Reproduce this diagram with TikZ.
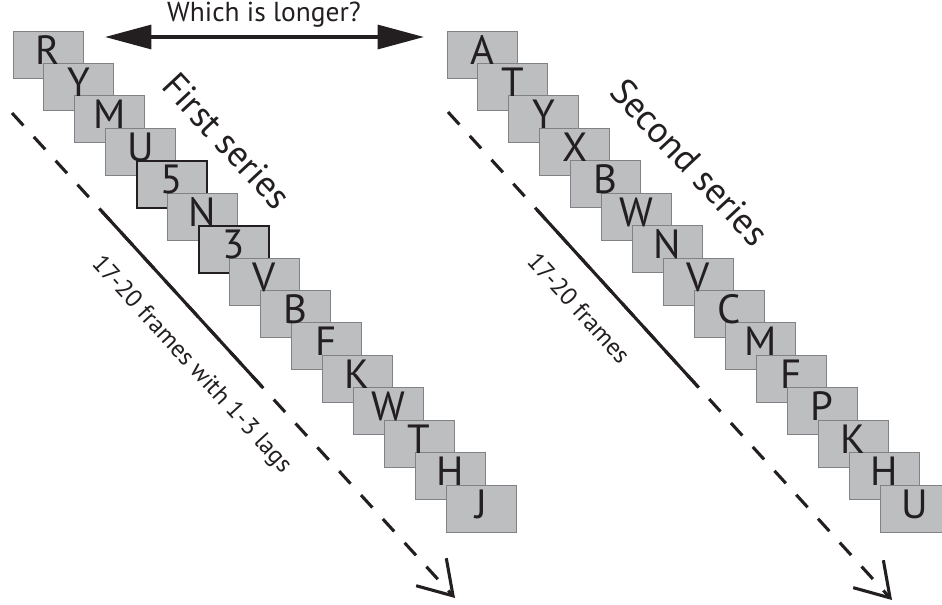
\documentclass[tikz,border=0pt]{standalone}
\usepackage{fontspec}
\setmainfont{PT Sans}
\usetikzlibrary{arrows.meta,calc}
\definecolor{ink}{HTML}{231F20}
\definecolor{cardfill}{HTML}{BCBEC0}
\definecolor{cardline}{HTML}{808285}

\begin{document}
\begin{tikzpicture}[x=0.025cm, y=-0.025cm,
  card/.style={draw=cardline, line width=0.7pt, fill=cardfill, minimum width=1.75cm, minimum height=1.175cm, inner sep=0pt, outer sep=0pt, anchor=north west},
  lagcard/.style={card, draw=ink, line width=1.4pt},
  glyph/.style={anchor=base, font=\fontsize{29}{29}\selectfont, text=ink, inner sep=0pt},
  series/.style={font=\fontsize{26}{26}\selectfont, text=ink, rotate=-47},
  span/.style={font=\fontsize{17.5}{17.5}\selectfont, text=ink, rotate=-47.6},
  timeline/.style={ink, line width=2.2pt, dash pattern=on 12pt off 11pt, -{Straight Barb[length=23pt,width=29pt]}},
  compare/.style={ink, line width=2.5pt, {Triangle[length=33pt,width=17pt]}-{Triangle[length=33pt,width=17pt]}}]
\useasboundingbox (0,0) rectangle (942,605);
\clip (0,0) rectangle (942,605);

% question and double arrow
\node[font=\fontsize{19.5}{19.5}\selectfont, text=ink] (question) at (264,15) {Which is longer?};
\coordinate (cmpL) at (105,37);
\coordinate (cmpR) at (424,37);
\draw[compare] (cmpL) -- (cmpR);

% first series, with the two lag frames
\foreach \l/\s [count=\i from 0] in {R/card,Y/card,M/card,U/card,5/lagcard,N/card,3/lagcard,V/card,B/card,F/card,K/card,W/card,T/card,H/card,J/card}
  \node[\s] (f\i) at ({13+30.93*\i},{31+32.43*\i}) {};
\foreach \l [count=\i from 0] in {R,Y,M,U,5,N,3,V,B,F,K,W,T,H,J}
  \node[glyph] (fl\i) at ([yshift=-23.5pt]f\i.north) {\l};

% second series
\foreach \l [count=\i from 0] in {A,T,Y,X,B,W,N,V,C,M,F,P,K,H,U}
  \node[card] (s\i) at ({447+30.93*\i},{31+32.43*\i}) {};
\foreach \l [count=\i from 0] in {A,T,Y,X,B,W,N,V,C,M,F,P,K,H,U}
  \node[glyph] (sl\i) at ([yshift=-23.5pt]s\i.north) {\l};

\node[series] (firstlbl) at (227,141) {First series};
\node[series] (secondlbl) at (690,162) {Second series};

% time lines
\coordinate (fa) at (12,113);
\coordinate (fb) at (455,598);
\draw[timeline] (fa) -- (fb);
\draw[ink, line width=2.2pt] ($(fa)!0.2!(fb)$) -- ($(fa)!0.565!(fb)$);
\node[span] (flen) at (191,365) {17-20 frames with 1-3 lags};

\coordinate (sa) at (448,112);
\coordinate (sb) at (892,600);
\draw[timeline] (sa) -- (sb);
\draw[ink, line width=2.2pt] ($(sa)!0.2!(sb)$) -- ($(sa)!0.563!(sb)$);
\node[span] (slen) at (579,308) {17-20 frames};
\end{tikzpicture}
\end{document}
